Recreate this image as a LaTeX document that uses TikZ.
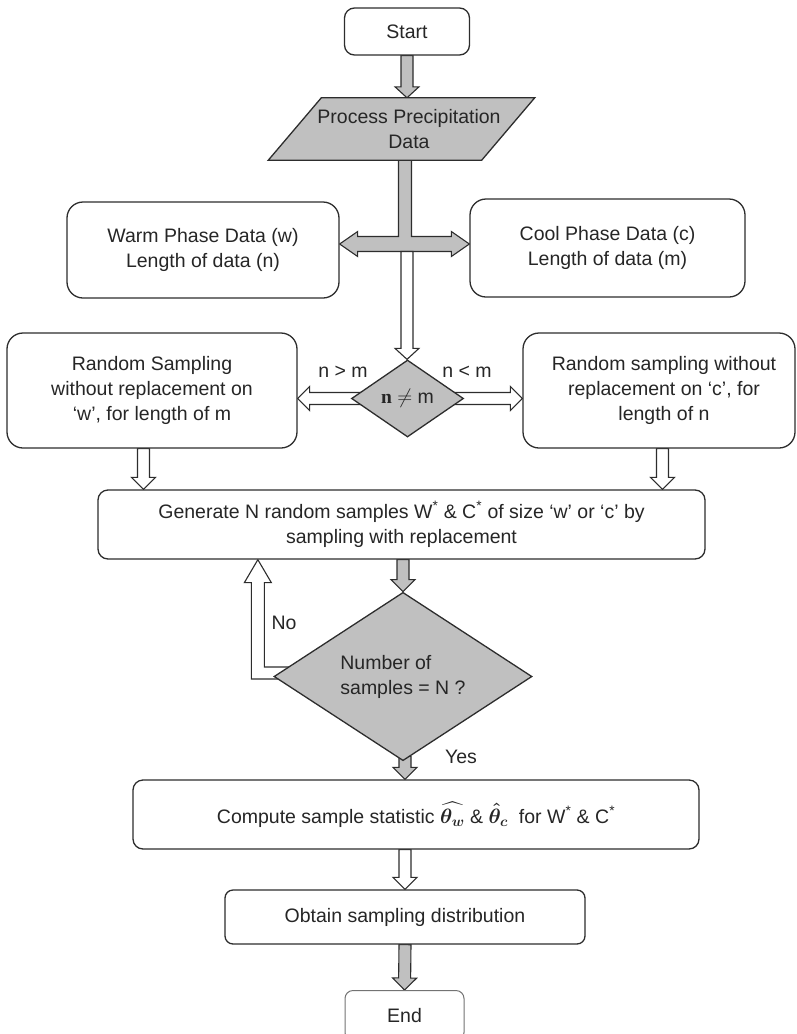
\documentclass[tikz,border=0pt]{standalone}
\usepackage{amsmath,bm}
\usepackage{fontspec}
\setmainfont{Liberation Sans}
\newfontfamily\serifbold{Liberation Serif}
\usetikzlibrary{calc,shapes.geometric,backgrounds}
\definecolor{graybox}{RGB}{192,192,192}
\definecolor{linecol}{RGB}{45,45,45}
\newcommand{\fatarrow}[4][12pt]{%
  \coordinate (fa-h) at ($(#4)!#1!(#3)$);
  \draw[blockarrow, fill=#2]
    ($(#3)!6pt!90:(#4)$) -- ($(fa-h)!6pt!90:(#4)$) -- ($(fa-h)!12pt!90:(#4)$) -- (#4)
    -- ($(fa-h)!12pt!-90:(#4)$) -- ($(fa-h)!6pt!-90:(#4)$) -- ($(#3)!6pt!-90:(#4)$) -- cycle;}
\tikzset{
  every node/.style={font=\fontsize{19.5}{25}\selectfont, text=black!85},
  flowbox/.style={draw=linecol, line width=1.3pt, fill=white, rounded corners=#1, align=center, inner sep=0pt},
  flowbox/.default=16pt,
  decision/.style={diamond, draw=linecol, fill=graybox, line width=1.3pt, inner sep=0pt, align=center},
  blockarrow/.style={draw=linecol, line width=1.1pt, line join=miter},
  lbl/.style={inner sep=0pt}
}
\begin{document}
\begin{tikzpicture}[x=1pt,y=-1pt]
\useasboundingbox (0,0) rectangle (797,1034);
% nodes
\node[flowbox=10pt, minimum width=125pt, minimum height=47pt] (start) at (407,31.5) {Start};
\node[inner sep=0pt, minimum width=213pt, minimum height=62pt, align=center] (proc) at (405,129) {};
\draw[line width=1.3pt, draw=linecol, fill=graybox]
  ($(proc.north west)+(23,0)$) -- ($(proc.north east)+(23,0)$) --
  ($(proc.south east)+(-30,0)$) -- ($(proc.south west)+(-30,0)$) -- cycle;
\node[align=center, inner sep=0pt] (proctext) at ($(proc.center)+(4,0)$) {Process Precipitation\\Data};
\node[flowbox, minimum width=272pt, minimum height=96pt] (warm) at (203,250) {Warm Phase Data (w)\\Length of data (n)};
\node[flowbox, minimum width=275pt, minimum height=98pt] (cool) at (607.5,248) {Cool Phase Data (c)\\Length of data (m)};
\node[decision, minimum width=112pt, minimum height=77pt] (ne) at (407.5,398.5) {{\serifbold\bfseries n} $\neq$ m};
\node[flowbox, minimum width=290pt, minimum height=115pt] (rsw) at (152,390.5) {Random Sampling\\without replacement on\\‘w’, for length of m};
\node[flowbox, minimum width=272pt, minimum height=115pt] (rsc) at (659,390.5) {\hspace*{10pt}Random sampling without\\\hspace*{10pt}replacement on ‘c’, for\\\hspace*{10pt}length of n};
\node[flowbox=10pt, minimum width=607pt, minimum height=69pt] (gen) at (401.5,524.5) {Generate N random samples W\textsuperscript{*} \& C\textsuperscript{*} of size ‘w’ or ‘c’ by\\sampling with replacement};
\node[decision, minimum width=258pt, minimum height=127pt, align=left] (num) at (403,676.5) {Number of\\samples = N ?};
\node[flowbox=10pt, minimum width=566pt, minimum height=69pt] (comp) at (416,814.5) {Compute sample statistic {\boldmath$\widehat{\theta_w}$} \& {\boldmath$\hat{\theta}_{c}$}\ \ for W\textsuperscript{*} \& C\textsuperscript{*}};
\node[flowbox=8pt, minimum width=360pt, minimum height=54pt] (obtain) at (405,917) {Obtain sampling distribution};
\node[flowbox=8pt, draw=black!55, line width=1pt, minimum width=119pt, minimum height=50pt, anchor=north] (end) at (404.5,990) {End};
% labels
\node[lbl] (lgt) at (343,372) {n > m};
\node[lbl] (llt) at (467,372) {n < m};
\node[lbl] (lno) at (284,623) {No};
\node[lbl] (lyes) at (461,757) {Yes};
% connectors
\begin{scope}[on background layer]
  \coordinate (a1s) at (start.south);
  \coordinate (a1t) at (start.south |- proc.north);
  \fatarrow[11pt]{graybox}{a1s}{a1t}
  \coordinate (J) at ($(proc.south |- warm.east)+(0,-6)$);
  \draw[blockarrow, fill=graybox] let \p0=(J), \p1=(proc.south), \p2=(warm.east), \p3=(cool.west) in
    (\x1-6.5pt,\y1) -- (\x1-6.5pt,\y0+7.5pt) -- (\x2+18pt,\y0+7.5pt) -- (\x2+18pt,\y0+12.5pt) -- (\x2,\y0)
    -- (\x2+18pt,\y0-12.5pt) -- (\x2+18pt,\y0-7.5pt) -- (\x3-18pt,\y0-7.5pt) -- (\x3-18pt,\y0-12.5pt)
    -- (\x3,\y0) -- (\x3-18pt,\y0+12.5pt) -- (\x3-18pt,\y0+7.5pt) -- (\x1+6.5pt,\y0+7.5pt) -- (\x1+6.5pt,\y1);
  \coordinate (w1s) at ($(J)+(2,7.5)$);
  \coordinate (w1t) at (w1s |- ne.north);
  \fatarrow[11pt]{white}{w1s}{w1t}
  \coordinate (l1s) at ($(ne.west)+(10,0)$);
  \coordinate (l1t) at (rsw.east |- ne.west);
  \fatarrow{white}{l1s}{l1t}
  \coordinate (r1s) at ($(ne.east)+(-10,0)$);
  \coordinate (r1t) at (rsc.west |- ne.east);
  \fatarrow{white}{r1s}{r1t}
  \coordinate (d1s) at ($(rsw.south)+(-8.5,0)$);
  \coordinate (d1t) at (d1s |- gen.north);
  \fatarrow{white}{d1s}{d1t}
  \coordinate (d2s) at ($(rsc.south)+(3.5,0)$);
  \coordinate (d2t) at (d2s |- gen.north);
  \fatarrow{white}{d2s}{d2t}
  \coordinate (g1s) at (num.north |- gen.south);
  \coordinate (g1t) at (num.north);
  \fatarrow{graybox}{g1s}{g1t}
  \coordinate (nc) at ($(num.west)+(-15.5,-3.5)$);
  \coordinate (nt) at (nc |- gen.south);
  \draw[blockarrow, fill=white]
    ($(num.west)+(25,-9.5)$) -- ($(nc)+(6.5,-6)$) -- ($(nt)+(6.5,23)$) -- ($(nt)+(13.5,23)$) -- (nt)
    -- ($(nt)+(-13.5,23)$) -- ($(nt)+(-6.5,23)$) -- ($(nc)+(-6.5,6)$) -- ($(num.west)+(25,2.5)$) -- cycle;
  \coordinate (y1s) at ($(num.south)+(2,-5)$);
  \coordinate (y1t) at (y1s |- comp.north);
  \fatarrow{graybox}{y1s}{y1t}
  \coordinate (c1s) at (obtain.north |- comp.south);
  \coordinate (c1t) at (obtain.north);
  \fatarrow{white}{c1s}{c1t}
  \coordinate (o1s) at (obtain.south);
  \coordinate (o1t) at (end.north);
  \fatarrow{graybox}{o1s}{o1t}
\end{scope}
\end{tikzpicture}
\end{document}
